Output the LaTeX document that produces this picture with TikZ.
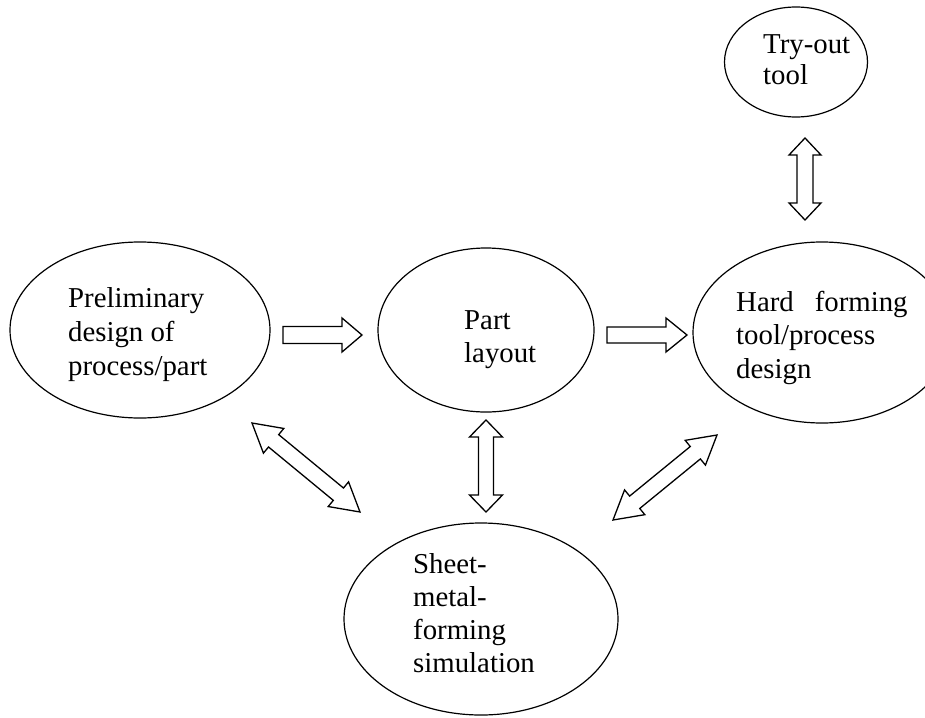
\documentclass[tikz,border=0pt]{standalone}
\usepackage{fontspec}
\setmainfont{Liberation Serif}
\usetikzlibrary{shapes.geometric}
\newdimen\arAx \newdimen\arAy \newdimen\arBx \newdimen\arBy
\newcommand\mlbreak{\egroup\hbox\bgroup}
\newcommand\mltext[2]{\vtop{\baselineskip=#1\lineskiplimit=-\maxdimen\let\\\mlbreak\hbox\bgroup#2\egroup}}
\newcommand\arrgeom[2]{%
  \pgfextractx{\arAx}{\pgfpointanchor{#1}{center}}%
  \pgfextracty{\arAy}{\pgfpointanchor{#1}{center}}%
  \pgfextractx{\arBx}{\pgfpointanchor{#2}{center}}%
  \pgfextracty{\arBy}{\pgfpointanchor{#2}{center}}%
  \pgfmathsetmacro\arAng{atan2(\the\arBy-\the\arAy,\the\arBx-\the\arAx)}%
  \pgfmathsetmacro\arLen{veclen(\the\arBx-\the\arAx,\the\arBy-\the\arAy)}}
% double-headed block arrow: from, to, head length, half head width, half shaft width
\newcommand\dblarrow[5]{\arrgeom{#1}{#2}%
  \draw[blockarr,shift={(#1)},rotate=\arAng] (0,0) -- (#3,#4) -- (#3,#5) -- (\arLen-#3,#5) -- (\arLen-#3,#4) -- (\arLen,0) -- (\arLen-#3,-#4) -- (\arLen-#3,-#5) -- (#3,-#5) -- (#3,-#4) -- cycle;}
% single-headed block arrow
\newcommand\sglarrow[5]{\arrgeom{#1}{#2}%
  \draw[blockarr,shift={(#1)},rotate=\arAng] (0,#5) -- (\arLen-#3,#5) -- (\arLen-#3,#4) -- (\arLen,0) -- (\arLen-#3,-#4) -- (\arLen-#3,-#5) -- (0,-#5) -- cycle;}
\begin{document}
\begin{tikzpicture}[x=1pt,y=-1pt,
  ell/.style={draw=black,line width=1.2pt,ellipse,inner sep=0pt},
  blockarr/.style={draw=black,fill=white,line width=1.3pt,line join=miter},
  lbl/.style={anchor=base west,inner sep=0pt,font=\fontsize{28.8pt}{33pt}\selectfont}]
\useasboundingbox[fill=white] (0,0) rectangle (925,717);
% ellipses
\node[ell,minimum width=143pt,minimum height=110pt] (try) at (796,62) {};
\node[ell,minimum width=260pt,minimum height=176pt] (prelim) at (140,330) {};
\node[ell,minimum width=216pt,minimum height=164pt] (part) at (486,330) {};
\node[ell,minimum width=258pt,minimum height=181pt] (hard) at (822,332.5) {};
\node[ell,minimum width=274pt,minimum height=192pt] (sheet) at (481,619) {};
% texts
\node[lbl] (trytxt) at (763,53) {\mltext{31pt}{Try-out\\tool}};
\node[lbl] (prelimtxt) at (68,307) {\mltext{34pt}{Preliminary\\design of\\process/part}};
\node[lbl] (parttxt) at (464,329) {\mltext{33pt}{Part\\layout}};
\node[lbl] (hardtxt) at (736,311) {\mltext{33.5pt}{Hard\hspace{21pt}forming\\tool/process\\design}};
\node[lbl] (sheettxt) at (413,573) {\mltext{33.3pt}{Sheet-\\metal-\\forming\\simulation}};
% arrow end points
\coordinate (r1a) at (283,335); \coordinate (r1b) at (362,335);
\coordinate (r2a) at (607,335); \coordinate (r2b) at (687,335);
\coordinate (v1a) at (805,138); \coordinate (v1b) at (805,220);
\coordinate (v2a) at (486,420); \coordinate (v2b) at (486,512);
\coordinate (d1a) at (252,423); \coordinate (d1b) at (360,512);
\coordinate (d2a) at (613,520); \coordinate (d2b) at (717,435);
% arrows
\sglarrow{r1a}{r1b}{20}{17}{8.5}
\sglarrow{r2a}{r2b}{21}{17}{8}
\dblarrow{v1a}{v1b}{17}{16}{8}
\dblarrow{v2a}{v2b}{17}{16.5}{7.5}
\dblarrow{d1a}{d1b}{28}{16}{8}
\dblarrow{d2a}{d2b}{28}{16}{8}
\end{tikzpicture}
\end{document}
